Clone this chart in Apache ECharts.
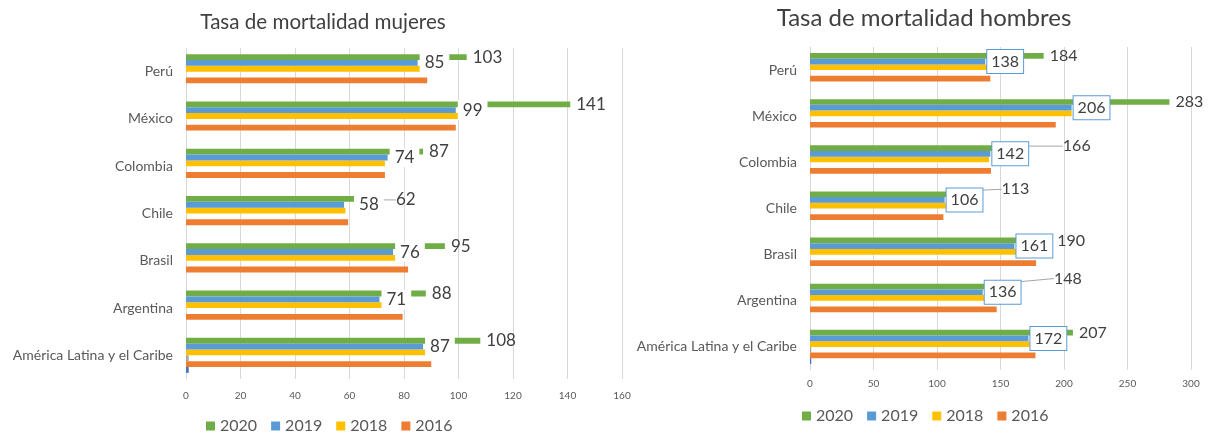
<!DOCTYPE html>
<html><head><meta charset="utf-8">
<script src="https://cdn.jsdelivr.net/npm/echarts@6/dist/echarts.min.js"></script>
<style>html,body{margin:0;padding:0;background:#fff}#c{width:1208px;height:434px}</style>
</head><body><div id="c"></div>
<script>
var categories = ['Perú', 'México', 'Colombia', 'Chile', 'Brasil', 'Argentina', 'América Latina y el Caribe'];
var legendNames = ['2020', '2019', '2018', '2016'];
var women2020 = [103, 141, 87, 62, 95, 88, 108];
var women2019 = [85, 99, 74, 58, 76, 71, 87];
var women2018 = [86, 100.5, 73, 58.5, 77, 72, 88];
var women2017 = [null, null, null, null, null, null, 1];
var women2016 = [88.5, 99, 73, 59.5, 81.5, 79.5, 90];
var womenExtra = [null, null, null, null, null, null, 1];
var men2020 = [184, 283, 166, 113, 190, 148, 207];
var men2019 = [138, 206, 142, 106, 161, 136, 172];
var men2018 = [141, 206, 141, 107, 164, 139, 173];
var men2017 = [null, null, null, null, null, null, 1];
var men2016 = [142, 193.5, 142.5, 105, 178, 147, 177.5];
var menExtra = [null, null, null, null, null, null, 1];
var womenTicks = {max: 160, interval: 20};
var menTicks = {max: 300, interval: 50};

var FONT = 'Lato';
var C = {g: '#70ad47', b: '#5b9bd5', y: '#ffc000', gr: '#a5a5a5', o: '#ed7d31', db: '#4472c4'};
// label shifts (styling, not data)
var shiftW20 = {3: [35, 1]};
var shiftW19 = {3: [8, 0]};
var shiftM20 = {2: [36, -2], 3: [42, -5], 5: [50, -8]};

function withLines(arr, shift) {
  return arr.map(function (v, i) {
    return shift[i] ? {value: v, labelLine: {show: true, lineStyle: {color: '#a6a6a6', width: 1}}} : v;
  });
}
function layoutFn(shift) {
  return function (p) { var s = shift[p.dataIndex]; return s ? {dx: s[0], dy: s[1]} : {}; };
}
function bars(idx, d20, d19, d18, d17, d16, dx, s20, s19, boxed) {
  var lbl19 = {show: true, position: 'right', distance: 2, fontFamily: FONT, fontSize: 17, color: '#404040',
    backgroundColor: '#fff', padding: boxed ? [4, 4, 3, 4] : [1, 5, 1, 5]};
  if (boxed) { lbl19.borderColor = C.b; lbl19.borderWidth = 1; lbl19.fontSize = 16; }
  var base = {type: 'bar', xAxisIndex: idx, yAxisIndex: idx, barGap: '0%', barCategoryGap: '26%'};
  return [
    Object.assign({}, base, {name: '2020', data: withLines(d20, s20), itemStyle: {color: C.g}, z: 2,
      label: {show: true, position: 'right', distance: 6, fontFamily: FONT, fontSize: boxed ? 16 : 17, color: '#404040'},
      labelLine: {show: false, lineStyle: {color: '#a6a6a6'}},
      labelLayout: layoutFn(s20)}),
    Object.assign({}, base, {name: '2019', data: d19, itemStyle: {color: C.b}, z: 4, label: lbl19,
      labelLayout: layoutFn(s19)}),
    Object.assign({}, base, {name: '2018', data: d18, itemStyle: {color: C.y}, z: 2}),
    Object.assign({}, base, {name: '2017', data: d17, itemStyle: {color: C.gr}, z: 2}),
    Object.assign({}, base, {name: '2016', data: d16, itemStyle: {color: C.o}, z: 2}),
    Object.assign({}, base, {name: 'x', data: dx, itemStyle: {color: C.db}, z: 2})
  ];
}
function xAx(idx, t, margin) {
  return {type: 'value', gridIndex: idx, min: 0, max: t.max, interval: t.interval,
    axisLine: {show: false}, axisTick: {show: false},
    splitLine: {show: true, lineStyle: {color: '#d9d9d9'}},
    axisLabel: {fontFamily: FONT, fontSize: 10, color: '#595959', margin: margin}};
}
function yAx(idx) {
  return {type: 'category', gridIndex: idx, data: categories, inverse: true,
    axisLine: {show: true, lineStyle: {color: '#d9d9d9'}}, axisTick: {show: false},
    axisLabel: {fontFamily: FONT, fontSize: 14, color: '#595959', margin: 13}};
}
var legendStyle = {itemWidth: 9, itemHeight: 9, itemGap: 14, icon: 'rect',
  textStyle: {fontFamily: FONT, fontSize: 16, color: '#595959'}};
var chart = echarts.init(document.getElementById('c'), null, {renderer: 'canvas'});
chart.setOption({
  animation: false,
  backgroundColor: '#fff',
  title: [
    {text: 'Tasa de mortalidad mujeres', left: 318, top: 7, textAlign: 'center',
      textStyle: {fontFamily: FONT, fontSize: 20.6, fontWeight: 'normal', color: '#404040'}},
    {text: 'Tasa de mortalidad hombres', left: 919, top: 1, textAlign: 'center',
      textStyle: {fontFamily: FONT, fontSize: 24, fontWeight: 'normal', color: '#404040'}}
  ],
  legend: [
    Object.assign({data: legendNames, left: 201, top: 413}, legendStyle),
    Object.assign({data: legendNames, left: 797, top: 403}, legendStyle)
  ],
  grid: [
    {left: 186, right: 586, top: 48, bottom: 55, containLabel: false},
    {left: 810, right: 17, top: 47, bottom: 64, containLabel: false}
  ],
  xAxis: [xAx(0, womenTicks, 12), xAx(1, menTicks, 9)],
  yAxis: [yAx(0), yAx(1)],
  series: [].concat(
    bars(0, women2020, women2019, women2018, women2017, women2016, womenExtra, shiftW20, shiftW19, false),
    bars(1, men2020, men2019, men2018, men2017, men2016, menExtra, shiftM20, {}, true)
  )
});
</script></body></html>
